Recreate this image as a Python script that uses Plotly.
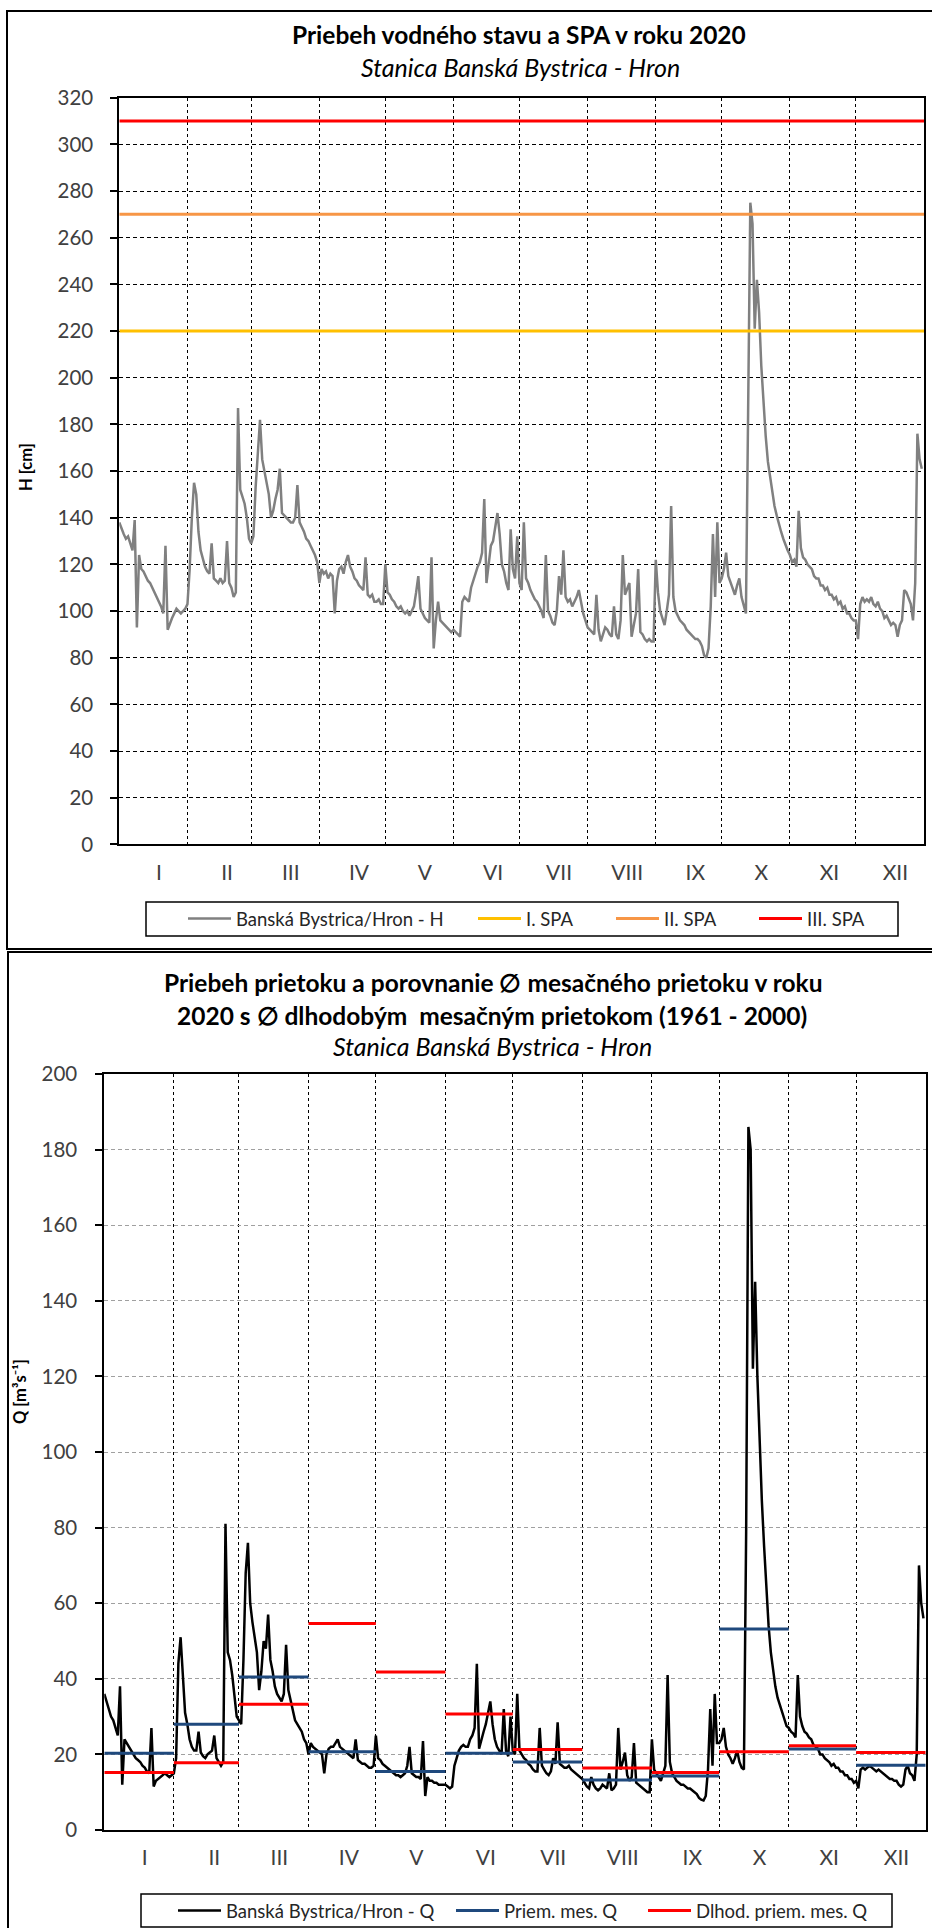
import pandas as pd
import plotly.graph_objects as go

# --- data ----------------------------------------------------------------
months = ["I", "II", "III", "IV", "V", "VI", "VII", "VIII", "IX", "X", "XI", "XII"]

# daily water level H [cm], 2020
h_cm = [
    # I
    138, 135, 133, 131, 132, 129, 126, 139, 93, 124, 118, 117, 115, 113, 112, 110, 108, 106, 104, 102,
    99, 128, 92, 95, 97, 99, 101, 100, 99, 100, 101,
    # II
    103, 118, 140, 155, 150, 134, 126, 122, 119, 117, 116, 129, 114, 113, 112, 114, 112, 113, 130, 112,
    110, 106, 108, 187, 152, 149, 146, 140, 131,
    # III
    129, 132, 153, 170, 182, 165, 160, 156, 150, 140, 143, 148, 152, 161, 142, 141, 140, 139, 138, 138,
    140, 154, 138, 136, 134, 131, 130, 128, 126, 124, 121,
    # IV
    112, 118, 116, 117, 114, 116, 115, 99, 113, 118, 119, 116, 121, 124, 119, 117, 114, 113, 111, 110,
    109, 123, 107, 106, 107, 104, 104, 105, 103, 103,
    # V
    120, 108, 107, 105, 104, 102, 101, 102, 100, 99, 100, 98, 100, 102, 108, 115, 101, 99, 97, 96,
    95, 123, 84, 96, 104, 96, 95, 94, 93, 92, 91,
    # VI
    92, 91, 90, 89, 104, 106, 105, 104, 110, 113, 117, 119, 121, 125, 148, 112, 120, 128, 130, 136,
    142, 133, 120, 117, 112, 109, 135, 118, 114, 132,
    # VII
    112, 109, 138, 114, 112, 109, 107, 105, 104, 102, 100, 97, 124, 100, 98, 95, 94, 100, 115, 107,
    126, 106, 104, 105, 102, 104, 106, 109, 103, 99, 96,
    # VIII
    93, 92, 91, 90, 107, 92, 87, 90, 93, 92, 90, 89, 102, 90, 88, 96, 124, 107, 110, 112,
    89, 94, 99, 118, 91, 90, 88, 87, 88, 87, 87,
    # IX
    122, 108, 100, 97, 94, 100, 107, 145, 106, 100, 98, 96, 95, 94, 92, 91, 90, 89, 88, 88,
    87, 85, 81, 80, 84, 102, 133, 106, 138, 112,
    # X
    114, 118, 125, 115, 112, 110, 107, 111, 114, 106, 103, 99, 185, 275, 266, 221, 242, 228, 205, 188,
    175, 164, 157, 151, 145, 141, 137, 134, 131, 128, 126,
    # XI
    124, 121, 122, 119, 143, 127, 123, 122, 120, 119, 118, 115, 114, 114, 111, 111, 109, 110, 107, 107,
    105, 106, 103, 104, 101, 102, 99, 99, 97, 96,
    # XII
    96, 88, 103, 106, 104, 105, 104, 106, 103, 102, 104, 101, 100, 97, 98, 96, 94, 95, 94, 89,
    94, 96, 109, 108, 105, 103, 96, 112, 176, 165, 161,
]

# daily discharge Q [m3/s], 2020
q_m3s = [
    # I
    36, 34, 32, 30, 29, 27, 25, 38, 12, 24, 23, 22, 21, 20, 19, 18.5, 18, 17, 16.5, 15.5,
    15, 27, 11.5, 13, 13.5, 14, 14.5, 15, 14.5, 14, 14.5,
    # II
    15, 19, 44, 51, 40, 31, 28, 24, 22, 21, 21, 26, 20.5, 19.5, 19, 20, 20.5, 21, 25, 19,
    18, 17, 18, 81, 47, 45, 41, 36, 30,
    # III
    29, 28, 45, 68, 76, 60, 55, 51, 47, 37, 42, 50, 48, 57, 45, 42, 38, 36, 35, 34,
    36, 49, 37, 34, 31, 29, 28, 27, 26, 24, 23,
    # IV
    20, 23, 22, 21.5, 21, 20.5, 20, 15, 20, 21.5, 22, 22, 23, 24, 22, 21.5, 21, 20.5, 20, 19.5,
    19, 24, 18.5, 18, 17.5, 17.5, 17, 16.5, 16.5, 17,
    # V
    25, 19, 18.5, 17.5, 17, 16.5, 16, 15.5, 15, 14.5, 14.5, 14, 14.5, 15, 17, 22, 15, 14.5, 14, 14,
    13.5, 23.5, 9, 14, 13, 13, 12.5, 12.5, 12, 12, 12,
    # VI
    12, 11.5, 11, 11.5, 17, 19, 21, 22, 22.5, 22, 22, 24, 25, 27, 44, 21.5, 24, 26, 28, 31,
    34, 28, 24, 22, 21, 20, 32, 21, 19.5, 30,
    # VII
    21, 20, 36, 21, 20, 19, 18.5, 17.5, 17, 16, 15.5, 15.5, 27, 17, 16, 15, 14.5, 15.5, 19, 17.5,
    28.5, 17.5, 17, 16.5, 16.5, 17, 16, 15.5, 15, 14.5, 14,
    # VIII
    13.5, 12.5, 11.5, 11, 14, 12, 11, 10.5, 11, 12, 11.5, 11, 15, 10.5, 11, 12, 27, 16, 18, 20.5,
    14.5, 13, 14, 23, 12.5, 12, 11.5, 11, 10.5, 10, 10,
    # IX
    24, 16, 15, 14, 13, 15, 17, 41, 18, 15, 14, 13, 12.5, 12, 12, 11.5, 11, 11, 10.5, 10,
    9.5, 8.5, 8, 7.8, 9, 16, 32, 17, 36, 23,
    # X
    23, 24, 27, 22, 20, 19, 17.5, 19, 21, 18, 16.5, 16, 79, 186, 180, 122, 145, 120, 101, 87,
    75, 63, 54, 47, 42, 38, 35, 33, 31, 29.5, 27.5,
    # XI
    27, 26, 25.5, 24.5, 41, 30, 27.5, 26, 25.5, 24.5, 24, 22.5, 22, 21.5, 20, 20, 19, 18.5, 18, 17,
    17.5, 16.5, 16.5, 15.5, 15.5, 14.5, 14.5, 13.5, 13.5, 12.5,
    # XII
    13, 11, 16, 16.5, 16, 16.5, 17, 16.5, 16, 15.5, 16, 15.5, 15, 14.5, 14, 13.5, 13.5, 13, 13, 12,
    11.5, 12, 16, 17, 15, 14.5, 13, 20, 70, 60, 56,
]

# monthly means
q_priem_2020 = [20.3, 28.0, 40.5, 20.7, 15.5, 20.3, 18.0, 13.2, 14.3, 53.2, 21.4, 17.1]
q_dlhod = [15.2, 17.8, 33.3, 54.6, 41.8, 30.7, 21.3, 16.4, 15.2, 20.7, 22.3, 20.5]

spa_levels = [220, 270, 310]
spa_names = ["I. SPA", "II. SPA", "III. SPA"]
spa_colors = ["#FFC000", "#F79646", "#FF0000"]

# --- helpers -------------------------------------------------------------
W, HT = 932, 1928
FONT = "Lato"
TXT = "#404040"


def px(x):
    return x / W


def py(y):
    return 1 - y / HT


days = pd.date_range("2020-01-01", periods=len(h_cm), freq="D")
mstart = pd.date_range("2020-01-01", periods=13, freq="MS")
label_pos = [d + pd.Timedelta(days=18) for d in mstart[:12]]

seg_x = []
for i in range(12):
    seg_x += [mstart[i], mstart[i + 1], None]


def seg_y(vals):
    out = []
    for v in vals:
        out += [v, v, None]
    return out


fig = go.Figure()

# top chart: each legend entry gets its own legend box so the spacing can follow the original
top_leg = ["legend", "legend3", "legend4", "legend5"]
fig.add_trace(go.Scatter(x=days, y=h_cm, mode="lines", name="Banská Bystrica/Hron - H",
                         line=dict(color="#808080", width=2.5), xaxis="x", yaxis="y",
                         legend=top_leg[0]))
for lvl, nm, c, lg in zip(spa_levels, spa_names, spa_colors, top_leg[1:]):
    fig.add_trace(go.Scatter(x=[mstart[0], mstart[-1]], y=[lvl, lvl], mode="lines", name=nm,
                             line=dict(color=c, width=3), xaxis="x", yaxis="y", legend=lg))

# bottom chart
bot_leg = ["legend2", "legend6", "legend7"]
fig.add_trace(go.Scatter(x=days, y=q_m3s, mode="lines", name="Banská Bystrica/Hron - Q",
                         line=dict(color="black", width=2.5), xaxis="x2", yaxis="y2",
                         legend=bot_leg[0]))
fig.add_trace(go.Scatter(x=seg_x, y=seg_y(q_priem_2020), mode="lines", name="Priem. mes. Q",
                         line=dict(color="#1F497D", width=3), xaxis="x2", yaxis="y2",
                         legend=bot_leg[1]))
fig.add_trace(go.Scatter(x=seg_x, y=seg_y(q_dlhod), mode="lines", name="Dlhod. priem. mes. Q",
                         line=dict(color="#FF0000", width=3), xaxis="x2", yaxis="y2",
                         legend=bot_leg[2]))


def xaxis_cfg(left, right, anchor, standoff):
    return dict(
        domain=[px(left), px(right)], anchor=anchor, type="date",
        range=[mstart[0], mstart[-1]], automargin=False,
        tickmode="array", tickvals=label_pos, ticktext=months, ticks="",
        ticklabelstandoff=standoff,
        tickfont=dict(family=FONT, size=21, color=TXT),
        showgrid=False, zeroline=False,
        showline=True, linecolor="black", linewidth=2, mirror=True,
        minor=dict(tickmode="array", tickvals=list(mstart[1:12]), showgrid=True,
                   gridcolor="black", gridwidth=1, griddash="3px,3px", ticks=""),
    )


def yaxis_cfg(top, bottom, anchor, rng, gcol, standoff):
    return dict(
        domain=[py(bottom), py(top)], anchor=anchor, range=rng, dtick=20, automargin=False,
        ticks="outside", ticklen=7, tickwidth=2, tickcolor="black",
        ticklabelstandoff=standoff,
        tickfont=dict(family=FONT, size=20.5, color=TXT),
        showgrid=True, gridcolor=gcol, gridwidth=1, griddash="4px,3px",
        zeroline=False, showline=True, linecolor="black", linewidth=2, mirror=True,
    )


ann = []


def add_text(x, y, text, size, bold=False, italic=False, angle=0):
    if bold:
        text = "<b>" + text + "</b>"
    if italic:
        text = "<i>" + text + "</i>"
    ann.append(dict(x=px(x), y=py(y), xref="paper", yref="paper", text=text, showarrow=False,
                    xanchor="center", yanchor="middle", textangle=angle,
                    font=dict(family=FONT, size=size, color="black")))


add_text(519, 34, "Priebeh vodného stavu a SPA v roku 2020", 24.5, bold=True)
add_text(520, 67, "Stanica Banská Bystrica - Hron", 25, italic=True)
add_text(26, 467, "H [cm]", 16.5, bold=True, angle=-90)

add_text(493, 983, "Priebeh prietoku a porovnanie ∅ mesačného prietoku v roku", 24.5, bold=True)
add_text(492, 1015, "2020 s ∅ dlhodobým\u00a0 mesačným prietokom (1961 - 2000)", 24.5, bold=True)
add_text(492, 1046, "Stanica Banská Bystrica - Hron", 25, italic=True)
add_text(20, 1392, "Q [m³s⁻¹]", 16.5, bold=True, angle=-90)

shapes = [
    # chart frames
    dict(type="rect", xref="paper", yref="paper", x0=px(7), x1=px(1040), y0=py(949), y1=py(11),
         line=dict(color="black", width=2)),
    dict(type="rect", xref="paper", yref="paper", x0=px(8), x1=px(1040), y0=py(1960), y1=py(952),
         line=dict(color="black", width=2)),
    # legend boxes
    dict(type="rect", xref="paper", yref="paper", x0=px(146), x1=px(898), y0=py(936), y1=py(902),
         line=dict(color="black", width=1.5)),
    dict(type="rect", xref="paper", yref="paper", x0=px(141), x1=px(892), y0=py(1927), y1=py(1894),
         line=dict(color="black", width=1.5)),
]

leg_common = dict(orientation="h", xanchor="left", yanchor="middle", bgcolor="rgba(0,0,0,0)",
                  borderwidth=0, font=dict(family=FONT, size=18.5, color="#262626"),
                  itemwidth=43, traceorder="normal")

# x position of each legend line sample (px)
top_leg_x = [187, 477, 615, 758]
bot_leg_x = [177, 455, 647]
legends = {}
for lg, x in zip(top_leg, top_leg_x):
    legends[lg] = dict(x=px(x - 4), y=py(919), **leg_common)
for lg, x in zip(bot_leg, bot_leg_x):
    legends[lg] = dict(x=px(x - 4), y=py(1911), **leg_common)

fig.update_layout(
    width=W, height=HT, margin=dict(l=0, r=0, t=0, b=0, autoexpand=False),
    paper_bgcolor="white", plot_bgcolor="white",
    xaxis=xaxis_cfg(119.3, 924, "y", 8),
    yaxis=yaxis_cfg(97.7, 844.4, "x", [0, 320], "black", 13),
    xaxis2=xaxis_cfg(104.3, 925.7, "y2", 8),
    yaxis2=yaxis_cfg(1074, 1830, "x2", [0, 200], "#A0A0A0", 14),
    annotations=ann, shapes=shapes,
    showlegend=True,
    **legends,
)

# the page's default body margin would shift the whole figure by 8px
fig.write_html("out.html", config={"displayModeBar": False},
               post_script="document.body.style.margin='0';document.body.style.overflow='hidden';")
